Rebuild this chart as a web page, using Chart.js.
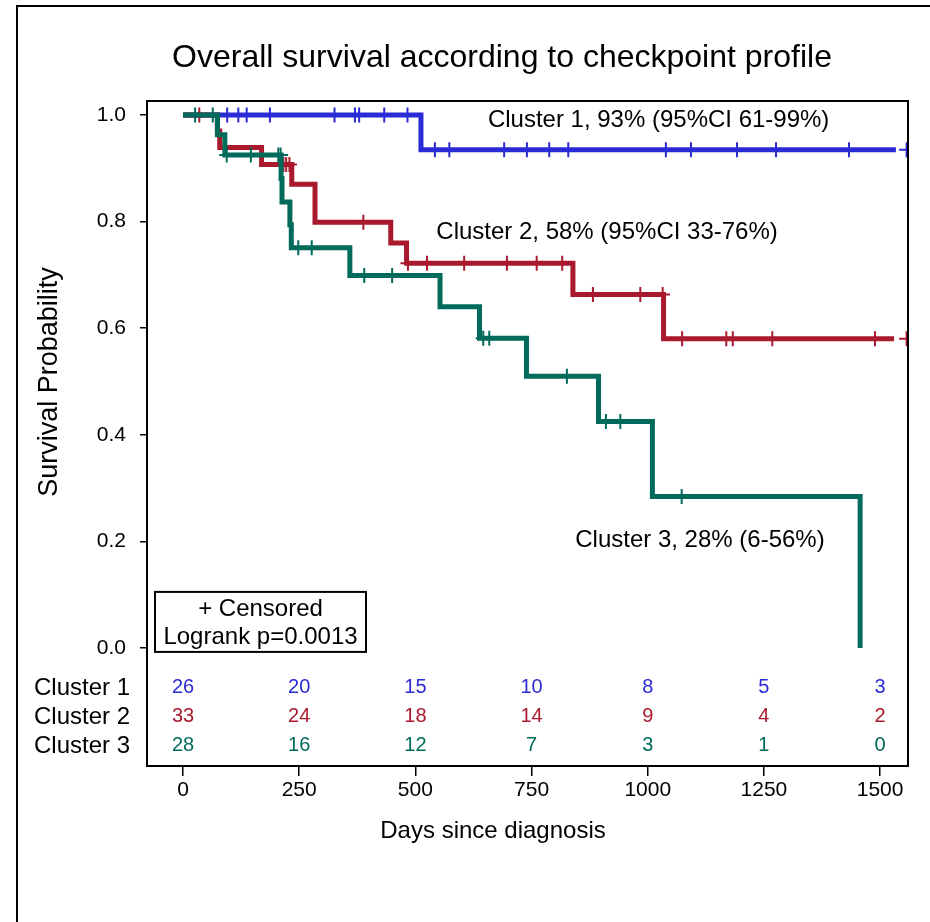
<!DOCTYPE html>
<html><head><meta charset="utf-8">
<script src="https://cdn.jsdelivr.net/npm/chart.js@4.4.1/dist/chart.umd.min.js"></script>
<style>html,body{margin:0;padding:0;background:#fff}canvas{display:block}</style>
</head><body>
<canvas id="c" width="930" height="922"></canvas>
<script>
// ---- text ----
const chartTitle = "Overall survival according to checkpoint profile";
const xTitle = "Days since diagnosis";
const yTitle = "Survival Probability";
const groupNames = ["Cluster 1", "Cluster 2", "Cluster 3"];
const curveLabels = ["Cluster 1, 93% (95%CI 61-99%)", "Cluster 2, 58% (95%CI 33-76%)", "Cluster 3, 28% (6-56%)"];
const legendLines = ["+ Censored", "Logrank p=0.0013"];

// ---- ticks ----
const xTicks = [0, 250, 500, 750, 1000, 1250, 1500];
const yTicks = [0, 0.2, 0.4, 0.6, 0.8, 1.0];

// ---- Kaplan-Meier step curves (event day, survival after event) ----
const c1Days = [0, 512, 1534];
const c1Surv = [1.0, 0.935, 0.935];
const c2Days = [0, 74, 79, 169, 234, 284, 447, 481, 839, 1034, 1530];
const c2Surv = [1.0, 0.970, 0.939, 0.907, 0.870, 0.799, 0.760, 0.722, 0.663, 0.580, 0.580];
const c3Days = [0, 74, 90, 211, 213, 230, 233, 359, 553, 638, 739, 894, 1010, 1457];
const c3Surv = [1.0, 0.963, 0.925, 0.881, 0.837, 0.794, 0.751, 0.699, 0.640, 0.581, 0.510, 0.425, 0.284, 0.0];

// ---- censored observations ----
const c1CensorDays = [95, 119, 137, 187, 326, 370, 379, 433, 483, 542, 573, 691, 740, 788, 829, 1039, 1093, 1192, 1276, 1433, 1557];
const c1CensorSurv = [1, 1, 1, 1, 1, 1, 1, 1, 1, 0.935, 0.935, 0.935, 0.935, 0.935, 0.935, 0.935, 0.935, 0.935, 0.935, 0.935, 0.935];
const c2CensorDays = [35, 216, 222, 229, 388, 484, 525, 605, 697, 761, 816, 882, 984, 1032, 1074, 1169, 1183, 1268, 1489, 1557];
const c2CensorSurv = [1.0, 0.907, 0.907, 0.907, 0.799, 0.722, 0.722, 0.722, 0.722, 0.722, 0.722, 0.663, 0.663, 0.663, 0.580, 0.580, 0.580, 0.580, 0.580, 0.580];
const c3CensorDays = [26, 64, 94, 146, 205, 210, 248, 277, 390, 450, 646, 659, 826, 910, 941, 1073];
const c3CensorSurv = [1.0, 1.0, 0.925, 0.925, 0.925, 0.925, 0.751, 0.751, 0.699, 0.699, 0.581, 0.581, 0.510, 0.425, 0.425, 0.284];

// ---- numbers at risk ----
const riskDays = [0, 250, 500, 750, 1000, 1250, 1500];
const c1AtRisk = [26, 20, 15, 10, 8, 5, 3];
const c2AtRisk = [33, 24, 18, 14, 9, 4, 2];
const c3AtRisk = [28, 16, 12, 7, 3, 1, 0];

// ---- styles ----
const colors = ["#2b2bd6", "#a91a2e", "#006b5b"];
const FONT = "'Liberation Sans', Arial, sans-serif";

const pts = (xs, ys) => xs.map((x, i) => ({ x: x, y: ys[i] }));
const lineDs = (xs, ys, col) => ({
  data: pts(xs, ys), showLine: true, stepped: 'before', borderColor: col, borderWidth: 5,
  borderJoinStyle: 'miter', pointRadius: 0, fill: false
});
const censDs = (xs, ys, col) => ({
  data: pts(xs, ys), showLine: false, pointStyle: 'cross', pointRadius: 7.5,
  pointBorderWidth: 2, borderColor: col, backgroundColor: col
});

const annot = {
  id: 'annot',
  afterDraw(chart) {
    const ctx = chart.ctx, a = chart.chartArea;
    const xs = chart.scales.x, ys = chart.scales.y;
    ctx.save();
    // frame
    ctx.strokeStyle = '#000'; ctx.lineWidth = 2;
    ctx.strokeRect(a.left, a.top, a.right - a.left, a.bottom - a.top);
    // outer figure border
    ctx.beginPath(); ctx.moveTo(17, 930); ctx.lineTo(17, 6); ctx.lineTo(935, 6); ctx.stroke();
    ctx.fillStyle = '#000';
    // title
    ctx.font = '32px ' + FONT; ctx.textAlign = 'center'; ctx.textBaseline = 'middle';
    ctx.fillText(chartTitle, 502, 58);
    // axis titles
    ctx.font = '24px ' + FONT;
    ctx.fillText(xTitle, 493, 831);
    ctx.save(); ctx.translate(50, 382); ctx.rotate(-Math.PI / 2);
    ctx.font = '27px ' + FONT; ctx.fillText(yTitle, 0, 0); ctx.restore();
    // curve labels (anchored in data coordinates)
    ctx.font = '24px ' + FONT;
    const anchors = [[656, 0.99], [545, 0.779], [844, 0.201]];
    ctx.textAlign = 'left';
    curveLabels.forEach((t, i) => ctx.fillText(t, xs.getPixelForValue(anchors[i][0]), ys.getPixelForValue(anchors[i][1])));
    // legend box
    const y0 = ys.getPixelForValue(0);
    ctx.lineWidth = 2;
    ctx.strokeRect(a.left + 8, y0 - 56, 211, 60);
    ctx.textAlign = 'center';
    ctx.fillText(legendLines[0], a.left + 113.5, y0 - 39);
    ctx.fillText(legendLines[1], a.left + 113.5, y0 - 11);
    // at-risk table
    const rows = [c1AtRisk, c2AtRisk, c3AtRisk];
    rows.forEach((r, k) => {
      const yy = y0 + 40 + k * 29;
      ctx.font = '24px ' + FONT; ctx.fillStyle = '#000'; ctx.textAlign = 'right';
      ctx.fillText(groupNames[k], a.left - 17, yy);
      ctx.font = '20px ' + FONT; ctx.fillStyle = colors[k]; ctx.textAlign = 'center';
      r.forEach((v, j) => ctx.fillText(String(v), xs.getPixelForValue(riskDays[j]), yy));
    });
    ctx.restore();
  }
};

new Chart(document.getElementById('c'), {
  type: 'scatter',
  data: {
    datasets: [
      censDs(c3CensorDays, c3CensorSurv, colors[2]),
      lineDs(c3Days, c3Surv, colors[2]),
      censDs(c2CensorDays, c2CensorSurv, colors[1]),
      lineDs(c2Days, c2Surv, colors[1]),
      censDs(c1CensorDays, c1CensorSurv, colors[0]),
      lineDs(c1Days, c1Surv, colors[0])
    ]
  },
  options: {
    responsive: false, animation: false, events: [], devicePixelRatio: 1,
    layout: { padding: { top: 101, right: 22, bottom: 0, left: 0 } },
    plugins: { legend: { display: false }, title: { display: false }, tooltip: { enabled: false } },
    scales: {
      x: {
        type: 'linear', min: -77.5, max: 1560,
        afterFit: s => { s.height = 156; },
        afterBuildTicks: s => { s.ticks = xTicks.map(v => ({ value: v })); },
        grid: { display: true, drawOnChartArea: false, drawTicks: true, tickLength: 10, color: '#000', lineWidth: 1.5 },
        border: { display: false },
        ticks: { color: '#000', padding: 2, font: { family: FONT, size: 21 }, maxRotation: 0, autoSkip: false, callback: v => String(v) }
      },
      y: {
        type: 'linear', min: -0.2216, max: 1.0263,
        afterFit: s => { s.width = 147; },
        afterBuildTicks: s => { s.ticks = yTicks.map(v => ({ value: v })); },
        grid: { display: true, drawOnChartArea: false, drawTicks: true, tickLength: 7, color: '#000', lineWidth: 1.5 },
        border: { display: false },
        ticks: { color: '#000', padding: 14, font: { family: FONT, size: 21 }, autoSkip: false, callback: v => Number(v).toFixed(1) }
      }
    }
  },
  plugins: [annot]
});
</script>
</body></html>
